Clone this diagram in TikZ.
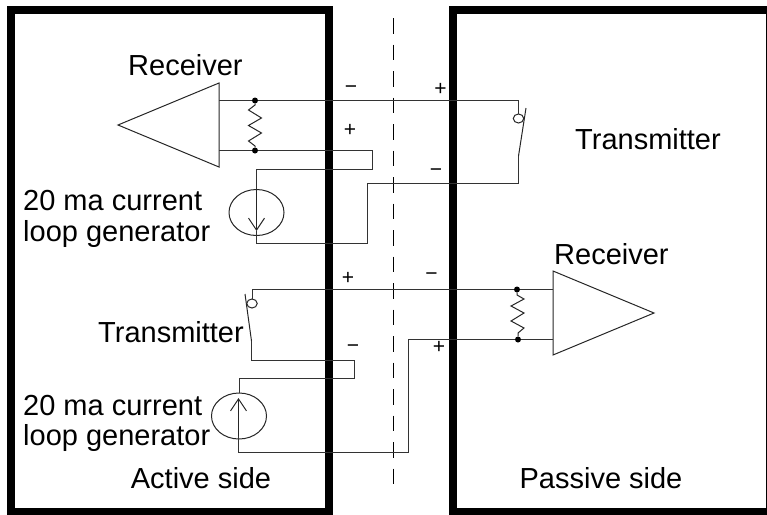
\documentclass[tikz,border=0pt]{standalone}
\usepackage{fontspec}
\setmainfont{Liberation Sans}
\usetikzlibrary{arrows.meta,shapes.geometric}
\tikzset{
  x=1pt,y=-1pt,
  panel/.style={draw=black,line width=8pt,fill=none,inner sep=0pt,outer sep=0pt},
  wire/.style={draw=black!80,line width=0.95pt},
  dashline/.style={draw=black,line width=1pt,dash pattern=on 15.5pt off 11pt},
  thin part/.style={draw=black!85,line width=1pt},
  junction/.style={circle,fill=black,inner sep=0pt,minimum size=6pt},
  contact/.style={ellipse,draw=black!85,line width=1pt,fill=white,inner sep=0pt,minimum width=10.5pt,minimum height=9pt},
  source/.style={ellipse,draw=black!85,line width=1pt,inner sep=0pt,minimum width=55pt,minimum height=46pt},
  label/.style={inner sep=0pt,anchor=base west,font=\fontsize{29}{32}\selectfont},
  clabel/.style={inner sep=0pt,anchor=base,font=\fontsize{29}{32}\selectfont},
  sign/.style={inner sep=0pt,font=\fontsize{21}{24}\selectfont},
  openhead/.style={-{Straight Barb[length=12pt,width=16pt,line width=1pt]}}
}
\begin{document}
\begin{tikzpicture}
\useasboundingbox (0,0) rectangle (767,514);
\draw[panel] (11,10) rectangle (329,512);
\draw[panel] (453,10) rectangle (769.5,512);
\draw[dashline] (393.5,18) coordinate (da) -- (393.5,484) coordinate (db);
% upper loop
\coordinate (t1a) at (219,83); \coordinate (t1b) at (219,167); \coordinate (t1c) at (118,125);
\draw[thin part] (t1a) -- (t1c) -- (t1b) -- cycle;
\node[junction] (j1) at (255,100.5) {};
\node[junction] (j2) at (255,150.5) {};
\node[contact] (c1) at (518.5,118.5) {};
\node[source] (s1) at (256.5,212.5) {};
\coordinate (w1) at (219,100.5); \coordinate (w2) at (518.5,100.5);
\draw[wire] (w1) -- (j1) -- (w2) -- (c1);
\coordinate (w3) at (219,150.5);
\draw[wire] (w3) -- (j2) -| (372.5,169.5) -| (s1.north);
\draw[thin part,openhead] (s1.north) -- (256.5,231) coordinate (a1);
\draw[wire] (a1) |- (367.5,243.5) |- (518.5,183.5) -- (518.5,156) coordinate (sw1);
\draw[thin part] (sw1) -- (526,108);
\draw[thin part] (j1) -- (255,105) -- (248.5,110) -- (261.5,118) -- (248.5,125.5) -- (261.5,133) -- (248.5,141) -- (255,146) -- (j2);
% lower loop
\coordinate (t2a) at (553,271); \coordinate (t2b) at (553,355); \coordinate (t2c) at (654,313);
\draw[thin part] (t2a) -- (t2c) -- (t2b) -- cycle;
\node[junction] (j3) at (517,289.5) {};
\node[junction] (j4) at (518,339.5) {};
\node[contact] (c2) at (252,303.5) {};
\node[source] (s2) at (239,416) {};
\draw[wire] (c2) |- (j3) -- (553,289.5);
\coordinate (sw2) at (251.5,341);
\draw[thin part] (245,294) -- (sw2);
\draw[wire] (sw2) |- (354.5,360.5) |- (239.5,378.5) -- (239.5,393);
\draw[thin part,openhead] (238.5,436) coordinate (a2) -- (238.5,398);
\draw[wire] (a2) |- (408.5,452.5) |- (j4) -- (553,339.5);
\draw[thin part] (j3) -- (517,295) -- (524,299) -- (511,306) -- (524,313) -- (511,321) -- (524,328) -- (518,333) -- (j4);
% signs
\node[sign] (m1) at (351,90) {−};
\node[sign] (p1) at (350,130) {+};
\node[sign] (p2) at (440.5,89) {+};
\node[sign] (m2) at (436,173) {−};
\node[sign] (p3) at (348,278) {+};
\node[sign] (m3) at (431.5,277) {−};
\node[sign] (m4) at (353,349) {−};
\node[sign] (p4) at (439,347) {+};
% labels
\node[label] (r1) at (128,75) {Receiver};
\node[label] (t1) at (575,149) {Transmitter};
\node[label] (g1) at (23,210) {20 ma current};
\node[label] (g2) at (23,241) {loop generator};
\node[label] (r2) at (554,264) {Receiver};
\node[label] (t2) at (98,342) {Transmitter};
\node[label] (g3) at (23,415) {20 ma current};
\node[label] (g4) at (23,445) {loop generator};
\node[clabel] (as) at (201,488) {Active side};
\node[clabel] (ps) at (601,488) {Passive side};
\end{tikzpicture}
\end{document}
